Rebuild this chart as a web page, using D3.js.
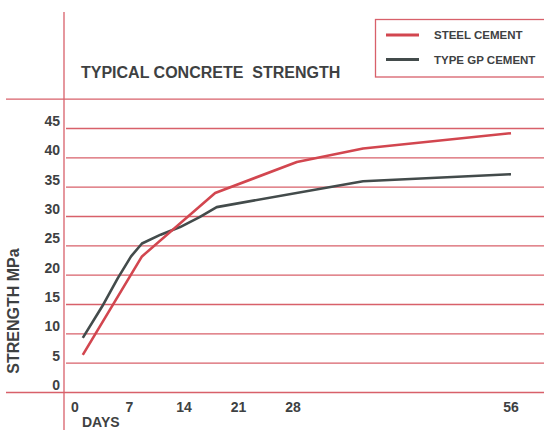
<!DOCTYPE html>
<html>
<head>
<meta charset="utf-8">
<script src="https://cdn.jsdelivr.net/npm/d3@7/dist/d3.min.js"></script>
<style>
  html, body { margin: 0; padding: 0; background: #fff; }
  svg { display: block; }
  text { font-family: "Liberation Sans", Arial, sans-serif; font-weight: bold; fill: #3e4142; white-space: pre; }
</style>
</head>
<body>
<svg id="chart" width="544" height="430"></svg>
<script>
// ---- data ----
const title = "TYPICAL CONCRETE  STRENGTH";
const seriesNames = ["STEEL CEMENT", "TYPE GP CEMENT"];
const xTicks = [0, 7, 14, 21, 28, 56];
const yTicks = [0, 5, 10, 15, 20, 25, 30, 35, 40, 45];
const steelDays   = [1, 8.6, 18, 28.5, 37, 56];
const steelValues = [6.4, 23.2, 34.0, 39.3, 41.6, 44.2];
const gpDays   = [1, 3.5, 5.5, 7.2, 8.6, 11, 13.5, 16, 18.2, 37, 56];
const gpValues = [9.3, 14.7, 19.5, 23.2, 25.4, 26.9, 28.2, 29.9, 31.6, 36.0, 37.2];
const xLabel = "DAYS";
const yLabel = "STRENGTH MPa";

const gridColor = "#d8606a";
const redColor = "#d2464f";
const darkColor = "#434b4b";

const svg = d3.select("#chart");
const x = d3.scaleLinear().domain([0, 56]).range([75, 511]);
const y = d3.scaleLinear().domain([0, 45]).range([392.5, 128.5]);

// frame lines
svg.append("line").attr("x1", 64).attr("x2", 64).attr("y1", 12).attr("y2", 430)
  .attr("stroke", gridColor).attr("stroke-width", 1.3);
svg.append("line").attr("x1", 6).attr("x2", 544).attr("y1", y(50)).attr("y2", y(50))
  .attr("stroke", gridColor).attr("stroke-width", 1.3);

// grid lines
svg.append("g").selectAll("line").data(yTicks).join("line")
  .attr("x1", d => d === 0 ? 6 : 66).attr("x2", 544)
  .attr("y1", d => y(d)).attr("y2", d => y(d))
  .attr("stroke", gridColor).attr("stroke-width", 1.3);

// y tick labels
svg.append("g").selectAll("text").data(yTicks).join("text")
  .attr("x", 60).attr("y", d => y(d) - 2.5)
  .attr("text-anchor", "end").attr("font-size", 14).text(d => d);

// x tick labels
svg.append("g").selectAll("text").data(xTicks).join("text")
  .attr("x", d => x(d)).attr("y", 412)
  .attr("text-anchor", "middle").attr("font-size", 14).text(d => d);

// axis titles
svg.append("text").attr("x", 82).attr("y", 427).attr("font-size", 14).text(xLabel);
svg.append("text").attr("transform", "translate(18.5,311) rotate(-90)")
  .attr("text-anchor", "middle").attr("font-size", 16).text(yLabel);

// title
svg.append("text").attr("x", 81).attr("y", 78).attr("font-size", 16).text(title);

// lines
const line = d3.line().x(d => x(d[0])).y(d => y(d[1]));
const steel = steelDays.map((d, i) => [d, steelValues[i]]);
const gp = gpDays.map((d, i) => [d, gpValues[i]]);
svg.append("path").datum(gp).attr("d", line).attr("fill", "none")
  .attr("stroke", darkColor).attr("stroke-width", 2.6).attr("stroke-linejoin", "round");
svg.append("path").datum(steel).attr("d", line).attr("fill", "none")
  .attr("stroke", redColor).attr("stroke-width", 2.6).attr("stroke-linejoin", "round");

// legend
svg.append("rect").attr("x", 375.5).attr("y", 19.5).attr("width", 200).attr("height", 57.5)
  .attr("fill", "none").attr("stroke", gridColor).attr("stroke-width", 1.3);
const legendColors = [redColor, darkColor];
const lg = svg.append("g").selectAll("g").data(seriesNames).join("g")
  .attr("transform", (d, i) => `translate(0,${35 + i * 24.5})`);
lg.append("line").attr("x1", 386).attr("x2", 419).attr("y1", 0).attr("y2", 0)
  .attr("stroke", (d, i) => legendColors[i]).attr("stroke-width", 2.8);
lg.append("text").attr("x", 434).attr("y", 4.2).attr("font-size", 11.5).text(d => d);
</script>
</body>
</html>
